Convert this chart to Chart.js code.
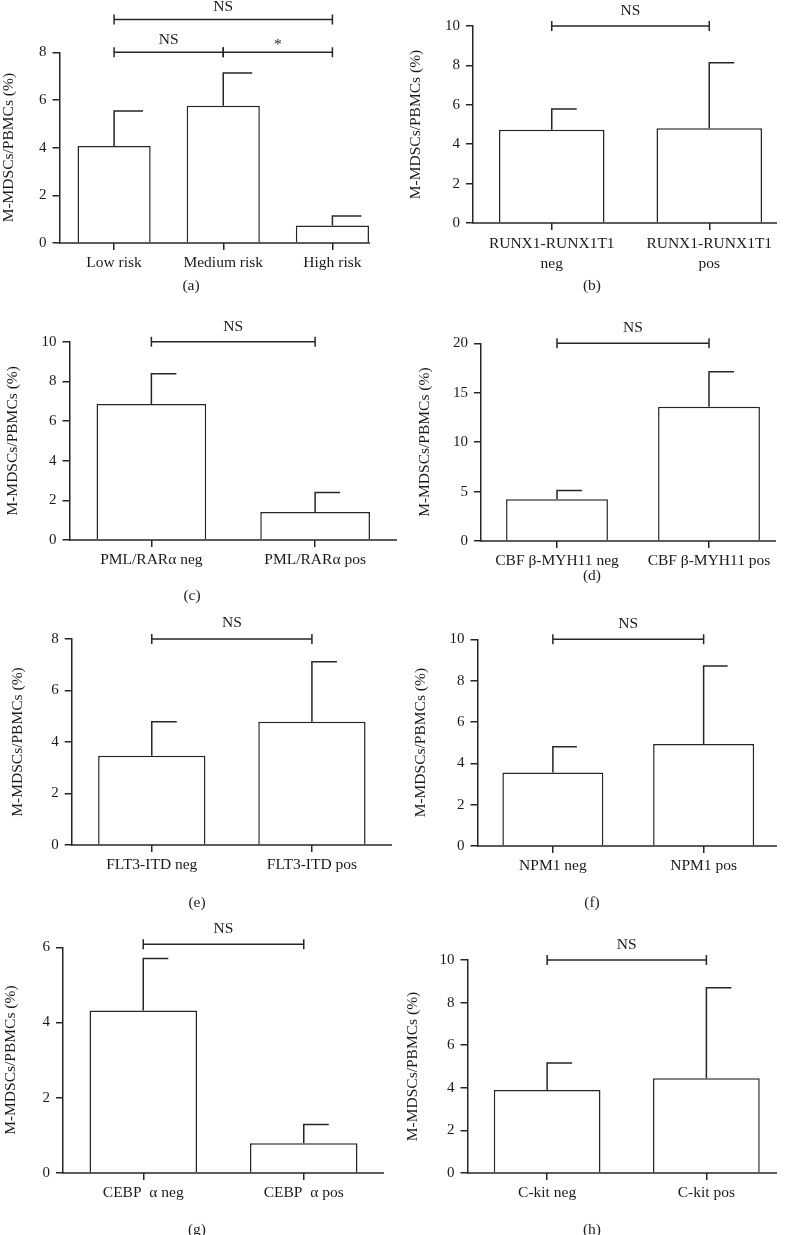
<!DOCTYPE html>
<html>
<head>
<meta charset="utf-8">
<script src="https://cdn.jsdelivr.net/npm/chart.js@4.4.0/dist/chart.umd.min.js"></script>
<style>
  html, body { margin: 0; padding: 0; background: #fff; }
  body { width: 785px; height: 1235px; position: relative; overflow: hidden;
         font-family: 'Liberation Serif', 'Times New Roman', serif; color: #1e1e1e; }
  .panel { position: absolute; overflow: hidden; }
  .tag { position: absolute; font-size: 15.5px; line-height: 1; transform: translate(-50%, -50%); white-space: nowrap; }
</style>
</head>
<body>
<script>
// (a) risk groups
const riskLabels = ['Low risk', 'Medium risk', 'High risk'];
const riskMeans = [4.07, 5.76, 0.73];
const riskSem = [1.47, 1.37, 0.40];
const riskTicks = [0, 2, 4, 6, 8];
const riskBrackets = [[0, 1, 8, 'NS'], [1, 2, 8, '*'], [0, 2, 9.38, 'NS']];

// (b) RUNX1-RUNX1T1
const runxLabels = [['RUNX1-RUNX1T1', 'neg'], ['RUNX1-RUNX1T1', 'pos']];
const runxMeans = [4.73, 4.81];
const runxSem = [1.06, 3.33];
const runxTicks = [0, 2, 4, 6, 8, 10];
const runxBrackets = [[0, 1, 10, 'NS']];

// (c) PML/RARa
const pmlLabels = ['PML/RARα neg', 'PML/RARα pos'];
const pmlMeans = [6.86, 1.41];
const pmlSem = [1.53, 0.98];
const pmlTicks = [0, 2, 4, 6, 8, 10];
const pmlBrackets = [[0, 1, 10, 'NS']];

// (d) CBFb-MYH11
const cbfLabels = ['CBF β-MYH11 neg', 'CBF β-MYH11 pos'];
const cbfMeans = [4.22, 13.58];
const cbfSem = [0.88, 3.54];
const cbfTicks = [0, 5, 10, 15, 20];
const cbfBrackets = [[0, 1, 20, 'NS']];

// (e) FLT3-ITD
const flt3Labels = ['FLT3-ITD neg', 'FLT3-ITD pos'];
const flt3Means = [3.47, 4.79];
const flt3Sem = [1.32, 2.33];
const flt3Ticks = [0, 2, 4, 6, 8];
const flt3Brackets = [[0, 1, 8, 'NS']];

// (f) NPM1
const npmLabels = ['NPM1 neg', 'NPM1 pos'];
const npmMeans = [3.55, 4.93];
const npmSem = [1.25, 3.78];
const npmTicks = [0, 2, 4, 6, 8, 10];
const npmBrackets = [[0, 1, 10, 'NS']];

// (g) CEBPa
const cebpLabels = ['CEBP  α neg', 'CEBP  α pos'];
const cebpMeans = [4.32, 0.79];
const cebpSem = [1.38, 0.50];
const cebpTicks = [0, 2, 4, 6];
const cebpBrackets = [[0, 1, 6.08, 'NS']];

// (h) C-kit
const kitLabels = ['C-kit neg', 'C-kit pos'];
const kitMeans = [3.90, 4.45];
const kitSem = [1.26, 4.25];
const kitTicks = [0, 2, 4, 6, 8, 10];
const kitBrackets = [[0, 1, 10, 'NS']];

const yTitle = 'M-MDSCs/PBMCs (%)';
const INK = '#262626';
const TXT = '#1a1a1a';
const FAMILY = "'Liberation Serif', 'Times New Roman', serif";

// where each panel's plot area sits on the page
const panels = [
  { tag: '(a)', at: [191, 285], labels: riskLabels, means: riskMeans, sem: riskSem, ticks: riskTicks, brackets: riskBrackets,
    box: { left: 59.5, top: 52.3, bottom: 242.7, right: 386.5, title: 9 }, cap: 29, gap: 8.5, toLastBar: true, head: 60 },
  { tag: '(b)', at: [592, 285], labels: runxLabels, means: runxMeans, sem: runxSem, ticks: runxTicks, brackets: runxBrackets,
    box: { left: 473, top: 26, bottom: 223.3, right: 787.7, title: 416.7 }, cap: 25, gap: 11, clip: 777, lineH: 1.35, xH: 62, pad: 3 },
  { tag: '(c)', at: [192, 595], labels: pmlLabels, means: pmlMeans, sem: pmlSem, ticks: pmlTicks, brackets: pmlBrackets,
    box: { left: 69.5, top: 341.7, bottom: 540, right: 397, title: 13 }, cap: 25, gap: 11 },
  { tag: '(d)', at: [592, 575], labels: cbfLabels, means: cbfMeans, sem: cbfSem, ticks: cbfTicks, brackets: cbfBrackets,
    box: { left: 481, top: 343.3, bottom: 540.7, right: 784.6, title: 425 }, cap: 25, gap: 11, clip: 776 },
  { tag: '(e)', at: [197, 902], labels: flt3Labels, means: flt3Means, sem: flt3Sem, ticks: flt3Ticks, brackets: flt3Brackets,
    box: { left: 71.7, top: 639, bottom: 845, right: 391.7, title: 18 }, cap: 25, gap: 12 },
  { tag: '(f)', at: [592, 902], labels: npmLabels, means: npmMeans, sem: npmSem, ticks: npmTicks, brackets: npmBrackets,
    box: { left: 477.5, top: 639.3, bottom: 846, right: 779.3, title: 421.7 }, cap: 24, gap: 11, clip: 777 },
  { tag: '(g)', at: [197, 1229], labels: cebpLabels, means: cebpMeans, sem: cebpSem, ticks: cebpTicks, brackets: cebpBrackets,
    box: { left: 63, top: 947.3, bottom: 1173.3, right: 384.3, title: 11.7 }, cap: 25, gap: 11 },
  { tag: '(h)', at: [592, 1229], labels: kitLabels, means: kitMeans, sem: kitSem, ticks: kitTicks, brackets: kitBrackets,
    box: { left: 467.5, top: 960, bottom: 1173.3, right: 785.5, title: 413.3 }, cap: 25, gap: 11, clip: 777 }
];

function annotations(p) {
  return {
    id: 'annot',
    afterDraw(chart) {
      const { ctx, chartArea, scales: { x, y } } = chart;
      const bars = chart.getDatasetMeta(0).data;
      ctx.save();
      ctx.strokeStyle = INK;
      ctx.lineWidth = 1.5;

      // error bars (upper half, cap to the right)
      bars.forEach((b, i) => {
        const top = y.getPixelForValue(p.means[i] + p.sem[i]);
        ctx.beginPath();
        ctx.moveTo(b.x, b.y);
        ctx.lineTo(b.x, top);
        ctx.moveTo(b.x - 0.75, top);
        ctx.lineTo(b.x + p.cap, top);
        ctx.stroke();
      });

      // x axis line
      const y0 = y.getPixelForValue(0);
      const last = bars[bars.length - 1];
      const end = p.toLastBar ? last.x + last.width / 2 + 1 : chartArea.right;
      ctx.beginPath();
      ctx.moveTo(chartArea.left - 0.75, y0);
      ctx.lineTo(end, y0);
      ctx.stroke();

      // significance brackets
      ctx.fillStyle = TXT;
      ctx.font = '15.5px ' + FAMILY;
      ctx.textAlign = 'center';
      ctx.textBaseline = 'alphabetic';
      p.brackets.forEach(([i, j, lvl, txt]) => {
        const x1 = x.getPixelForValue(i);
        const x2 = x.getPixelForValue(j);
        const yy = y.getPixelForValue(lvl);
        ctx.beginPath();
        ctx.moveTo(x1, yy); ctx.lineTo(x2, yy);
        ctx.moveTo(x1, yy - 5); ctx.lineTo(x1, yy + 5);
        ctx.moveTo(x2, yy - 5); ctx.lineTo(x2, yy + 5);
        ctx.stroke();
        ctx.fillText(txt, (x1 + x2) / 2, yy - p.gap + (txt === '*' ? 5 : 0));
      });
      ctx.restore();
    }
  };
}

panels.forEach(p => {
  const b = p.box;
  const cLeft = Math.max(0, Math.round(b.title - 15.5 * 1.2 / 2));
  const cTop = Math.max(0, Math.round(b.top - (p.head || 45)));
  const xH = p.xH || 44;
  const w = Math.round(b.right - cLeft);
  const h = Math.round(b.bottom - cTop + xH);

  const wrap = document.createElement('div');
  wrap.className = 'panel';
  wrap.style.left = cLeft + 'px';
  wrap.style.top = cTop + 'px';
  wrap.style.width = (p.clip ? p.clip - cLeft : w) + 'px';
  wrap.style.height = h + 'px';
  const cv = document.createElement('canvas');
  cv.width = w;
  cv.height = h;
  cv.style.width = w + 'px';
  cv.style.height = h + 'px';
  wrap.appendChild(cv);
  document.body.appendChild(wrap);

  const tag = document.createElement('div');
  tag.className = 'tag';
  tag.textContent = p.tag;
  tag.style.left = p.at[0] + 'px';
  tag.style.top = p.at[1] + 'px';
  document.body.appendChild(tag);

  new Chart(cv, {
    type: 'bar',
    data: {
      labels: p.labels,
      datasets: [{
        data: p.means,
        backgroundColor: '#ffffff',
        borderColor: INK,
        borderWidth: 1.5,
        borderSkipped: 'start',
        categoryPercentage: 1,
        barPercentage: 0.67
      }]
    },
    options: {
      responsive: false,
      animation: false,
      layout: { padding: { top: b.top - cTop, left: 0, right: 0, bottom: 0 } },
      plugins: { legend: { display: false }, tooltip: { enabled: false } },
      scales: {
        x: {
          offset: true,
          grid: { display: true, drawOnChartArea: false, offset: false, tickLength: 7, color: INK, lineWidth: 1.5 },
          border: { display: false },
          ticks: { color: TXT, font: { family: FAMILY, size: 15.5, lineHeight: p.lineH || 1.2 },
                   padding: p.pad || 4, autoSkip: false, maxRotation: 0, minRotation: 0 },
          afterFit: s => { s.height = xH; }
        },
        y: {
          min: p.ticks[0],
          max: p.ticks[p.ticks.length - 1],
          grid: { drawOnChartArea: false, tickLength: 7, color: INK, lineWidth: 1.5 },
          border: { display: true, color: INK, width: 1.5 },
          ticks: { color: TXT, font: { family: FAMILY, size: 15 }, padding: 6 },
          title: { display: true, text: yTitle, color: TXT, padding: 0,
                   font: { family: FAMILY, size: 15.5, lineHeight: 1.2 } },
          afterBuildTicks: s => { s.ticks = p.ticks.map(v => ({ value: v })); },
          afterFit: s => { s.width = b.left - cLeft; }
        }
      }
    },
    plugins: [annotations(p)]
  });
});
</script>
</body>
</html>
